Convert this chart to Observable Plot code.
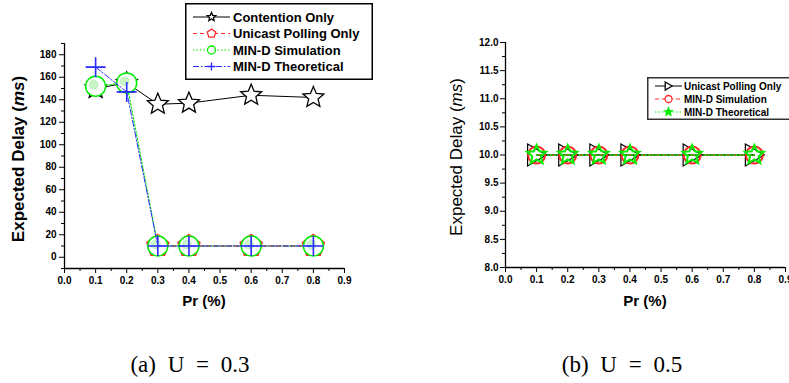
<!DOCTYPE html>
<html><head><meta charset="utf-8">
<script src="https://cdn.jsdelivr.net/npm/d3@7"></script>
<script src="https://cdn.jsdelivr.net/npm/@observablehq/plot@0.6"></script>
<style>
body{margin:0;background:#fff;overflow:hidden}
#wrap{position:relative;width:789px;height:383px;overflow:hidden;font-family:"Liberation Sans",Arial,sans-serif;background:#fff}
.abs{position:absolute;white-space:nowrap}
.ctr{transform:translate(-50%,-50%)}
.rot{transform:translate(-50%,-50%) rotate(-90deg)}
.cap{font-family:"Liberation Serif","Times New Roman",serif;font-size:23px;word-spacing:6px}
</style></head><body><div id="wrap"></div>
<script>
// ---------- data ----------
const prA = [0.1, 0.2, 0.3, 0.4, 0.6, 0.8];
const contentionA = [150, 155, 136, 137, 144, 142];
const unicastPrA = [0.3, 0.4, 0.6, 0.8];
const unicastA = [10, 10, 10, 10];
const simA = [152, 155, 10, 10, 10, 10];
const theoA = [169, 147, 10, 10, 10, 10];

const prB = [0.1, 0.2, 0.3, 0.4, 0.6, 0.8];
const unicastB = [10, 10, 10, 10, 10, 10];
const simB = [10, 10, 10, 10, 10, 10];
const theoB = [10, 10, 10, 10, 10, 10];

const xTicks = [0, 0.1, 0.2, 0.3, 0.4, 0.5, 0.6, 0.7, 0.8, 0.9];
const xMinor = [0.05, 0.15, 0.25, 0.35, 0.45, 0.55, 0.65, 0.75, 0.85];
const yTicksA = [0, 20, 40, 60, 80, 100, 120, 140, 160, 180];
const yMinorA = [-10, 10, 30, 50, 70, 90, 110, 130, 150, 170, 190];
const yTicksB = [8, 8.5, 9, 9.5, 10, 10.5, 11, 11.5, 12];
const yMinorB = [8.25, 8.75, 9.25, 9.75, 10.25, 10.75, 11.25, 11.75];

const legendA = ["Contention Only", "Unicast Polling Only", "MIN-D Simulation", "MIN-D Theoretical"];
const legendB = ["Unicast Polling Only", "MIN-D Simulation", "MIN-D Theoretical"];
const captions = ["(a) U = 0.3", "(b) U = 0.5"];
const yTitle = "Expected Delay";
const xTitle = "Pr (%)";

// ---------- symbols ----------
const rad = s => Math.sqrt(s / Math.PI);
const starSym = {draw(ctx, size) { const R = rad(size), r = R * 0.45;
  for (let i = 0; i < 10; i++) { const a = -Math.PI / 2 + i * Math.PI / 5, rr = i % 2 ? r : R;
    const x = rr * Math.cos(a), y = rr * Math.sin(a); i ? ctx.lineTo(x, y) : ctx.moveTo(x, y); }
  ctx.closePath(); }};
const pentSym = {draw(ctx, size) { const R = rad(size);
  for (let i = 0; i < 5; i++) { const a = -Math.PI / 2 + i * 2 * Math.PI / 5;
    const x = R * Math.cos(a), y = R * Math.sin(a); i ? ctx.lineTo(x, y) : ctx.moveTo(x, y); }
  ctx.closePath(); }};
const plusSym = {draw(ctx, size) { const R = rad(size);
  ctx.moveTo(-R, 0); ctx.lineTo(R, 0); ctx.moveTo(0, -R); ctx.lineTo(0, R); }};
const triSym = {draw(ctx, size) { const R = rad(size);
  ctx.moveTo(-0.82 * R, -R); ctx.lineTo(0.9 * R, 0); ctx.lineTo(-0.82 * R, R); ctx.closePath(); }};
const circSym = {draw(ctx, size) { const R = rad(size); ctx.moveTo(R, 0); ctx.arc(0, 0, R, 0, 2 * Math.PI); }};

const rows = (xs, ys) => xs.map((x, i) => ({x, y: ys[i]}));
const font = "Liberation Sans, Arial, sans-serif";
const RED = "#ff2a2a", GREEN = "#00ee00", BLUE = "#2a2aff";

const wrap = document.getElementById("wrap");
function place(el, left, top) { el.style.position = "absolute"; el.style.left = left + "px"; el.style.top = top + "px"; wrap.appendChild(el); }

// ---------- panel A ----------
const plotA = Plot.plot({
  width: 400, height: 320,
  marginLeft: 64, marginRight: 56, marginTop: 43, marginBottom: 52,
  x: {domain: [0, 0.9]},
  y: {domain: [-10, 190]},
  style: {fontFamily: font, fontSize: "10px", fontWeight: "bold", color: "black", background: "transparent"},
  marks: [
    Plot.axisX({ticks: xMinor, tickSize: 3, tickFormat: () => "", label: null}),
    Plot.axisX({ticks: xTicks, tickSize: 5, tickPadding: 3, tickFormat: d3.format(".1f"), label: null}),
    Plot.axisY({ticks: yMinorA, tickSize: 3, tickFormat: () => "", label: null}),
    Plot.axisY({ticks: yTicksA, tickSize: 5, tickPadding: 3, tickFormat: d3.format("d"), label: null}),
    Plot.ruleX([0], {strokeWidth: 1.3}),
    Plot.ruleY([-10], {strokeWidth: 1.3}),
    Plot.line(rows(prA, contentionA), {x: "x", y: "y", stroke: "black", strokeWidth: 1}),
    Plot.dot(rows(prA, contentionA), {x: "x", y: "y", r: 11, symbol: starSym, stroke: "black", fill: "white", strokeWidth: 1.3}),
    Plot.line(rows(unicastPrA, unicastA), {x: "x", y: "y", stroke: RED, strokeDasharray: "4,3"}),
    Plot.dot(rows(unicastPrA, unicastA), {x: "x", y: "y", r: 11.5, symbol: pentSym, stroke: RED, fill: "white", strokeWidth: 1.5}),
    Plot.line(rows(prA, simA), {x: "x", y: "y", stroke: GREEN, strokeDasharray: "1.5,2", strokeWidth: 1.2}),
    Plot.dot(rows(prA, simA), {x: "x", y: "y", r: 10, symbol: circSym, stroke: GREEN, fill: "white", strokeWidth: 1.5}),
    Plot.dot(rows(prA, simA), {x: "x", y: "y", r: 5, dx: -2, dy: -1.5, symbol: circSym, fill: "#c8f4c8"}),
    Plot.line(rows(prA, theoA), {x: "x", y: "y", stroke: BLUE, strokeDasharray: "6,2,1.5,2", strokeWidth: 1}),
    Plot.dot(rows(prA, theoA), {x: "x", y: "y", r: 10, symbol: plusSym, stroke: BLUE, strokeWidth: 1.6})
  ]
});
place(plotA, 0, 0);

// ---------- panel B ----------
const plotB = Plot.plot({
  width: 389, height: 320,
  marginLeft: 105, marginRight: 4, marginTop: 42, marginBottom: 53,
  x: {domain: [0, 0.9]},
  y: {domain: [8, 12]},
  style: {fontFamily: font, fontSize: "10px", fontWeight: "bold", color: "black", background: "transparent"},
  marks: [
    Plot.axisX({ticks: xMinor, tickSize: 3, tickFormat: () => "", label: null}),
    Plot.axisX({ticks: xTicks, tickSize: 5, tickPadding: 3, tickFormat: d3.format(".1f"), label: null}),
    Plot.axisY({ticks: yMinorB, tickSize: 3, tickFormat: () => "", label: null}),
    Plot.axisY({ticks: yTicksB, tickSize: 5, tickPadding: 2, tickFormat: d3.format(".1f"), label: null}),
    Plot.ruleX([0], {strokeWidth: 1.3}),
    Plot.ruleY([8], {strokeWidth: 1.3}),
    Plot.line(rows(prB, unicastB), {x: "x", y: "y", stroke: "black", strokeWidth: 1.5}),
    Plot.line(rows(prB, simB), {x: "x", y: "y", stroke: RED, strokeDasharray: "4,3", strokeWidth: 1.5}),
    Plot.line(rows(prB, theoB), {x: "x", y: "y", stroke: GREEN, strokeDasharray: "1.5,2", strokeWidth: 1.5}),
    Plot.dot(rows(prB, unicastB), {x: "x", y: "y", r: 11, symbol: triSym, stroke: "black", fill: "none", strokeWidth: 1.2}),
    Plot.dot(rows(prB, simB), {x: "x", y: "y", r: 8.5, symbol: circSym, stroke: RED, fill: "none", strokeWidth: 2}),
    Plot.dot(rows(prB, theoB), {x: "x", y: "y", r: 10, symbol: starSym, stroke: GREEN, fill: "none", strokeWidth: 2})
  ]
});
place(plotB, 400, 0);

// ---------- titles ----------
function text(html, x, y, cls, css) { const d = document.createElement("div"); d.className = "abs " + cls; d.innerHTML = html; Object.assign(d.style, css || {}); place(d, x, y); return d; }
text(yTitle + " (<i>ms</i>)", 19, 159, "rot", {fontSize: "17px", fontWeight: "bold"});
text(yTitle + " (<i>ms</i>)", 457, 157, "rot", {fontSize: "17px"});
text(xTitle, 204, 300, "ctr", {fontSize: "15px", fontWeight: "bold"});
text(xTitle, 645, 300, "ctr", {fontSize: "15px", fontWeight: "bold"});
text(captions[0], 190, 365, "ctr cap");
text(captions[1], 622, 365, "ctr cap");

// ---------- legends ----------
function legend(items, box, opt) {
  const svg = d3.create("svg").attr("width", box.w).attr("height", box.h).style("overflow", "visible");
  svg.append("rect").attr("x", 0.75).attr("y", 0.75).attr("width", box.w - 1.5).attr("height", box.h - 1.5)
    .attr("fill", "white").attr("stroke", box.stroke).attr("stroke-width", 1.5);
  items.forEach((it, i) => {
    const y = opt.y0 + i * opt.dy;
    svg.append("line").attr("x1", opt.l0).attr("x2", opt.l1).attr("y1", y).attr("y2", y)
      .attr("stroke", it.color).attr("stroke-width", it.sw || 1).attr("stroke-dasharray", it.dash || null);
    svg.append("path").attr("transform", `translate(${(opt.l0 + opt.l1) / 2},${y})`)
      .attr("d", d3.symbol(it.sym, Math.PI * it.r * it.r)())
      .attr("fill", it.fill).attr("stroke", it.color).attr("stroke-width", 1.3);
    svg.append("text").attr("x", opt.tx).attr("y", y).attr("dy", "0.35em").text(it.label)
      .attr("font-family", font).attr("font-weight", "bold").attr("font-size", opt.fs);
  });
  return svg.node();
}
place(legend([
  {label: legendA[0], color: "black", sym: starSym, r: 4.5, fill: "white"},
  {label: legendA[1], color: RED, sym: pentSym, r: 4.5, fill: "white", dash: "4,3"},
  {label: legendA[2], color: GREEN, sym: circSym, r: 4, fill: "white", dash: "1.5,2"},
  {label: legendA[3], color: BLUE, sym: plusSym, r: 4, fill: "none", dash: "6,2,1.5,2"}
], {w: 188, h: 77, stroke: "black"}, {y0: 14, dy: 16.5, l0: 8, l1: 45, tx: 48, fs: "13px"}), 185, 3);
place(legend([
  {label: legendB[0], color: "black", sym: triSym, r: 4, fill: "white"},
  {label: legendB[1], color: RED, sym: circSym, r: 3.5, fill: "white", dash: "4,3"},
  {label: legendB[2], color: GREEN, sym: starSym, r: 4, fill: GREEN, dash: "1.5,2"}
], {w: 160, h: 43, stroke: "#333"}, {y0: 9, dy: 13, l0: 8, l1: 35, tx: 37, fs: "10px"}), 647, 77);
</script></body></html>
